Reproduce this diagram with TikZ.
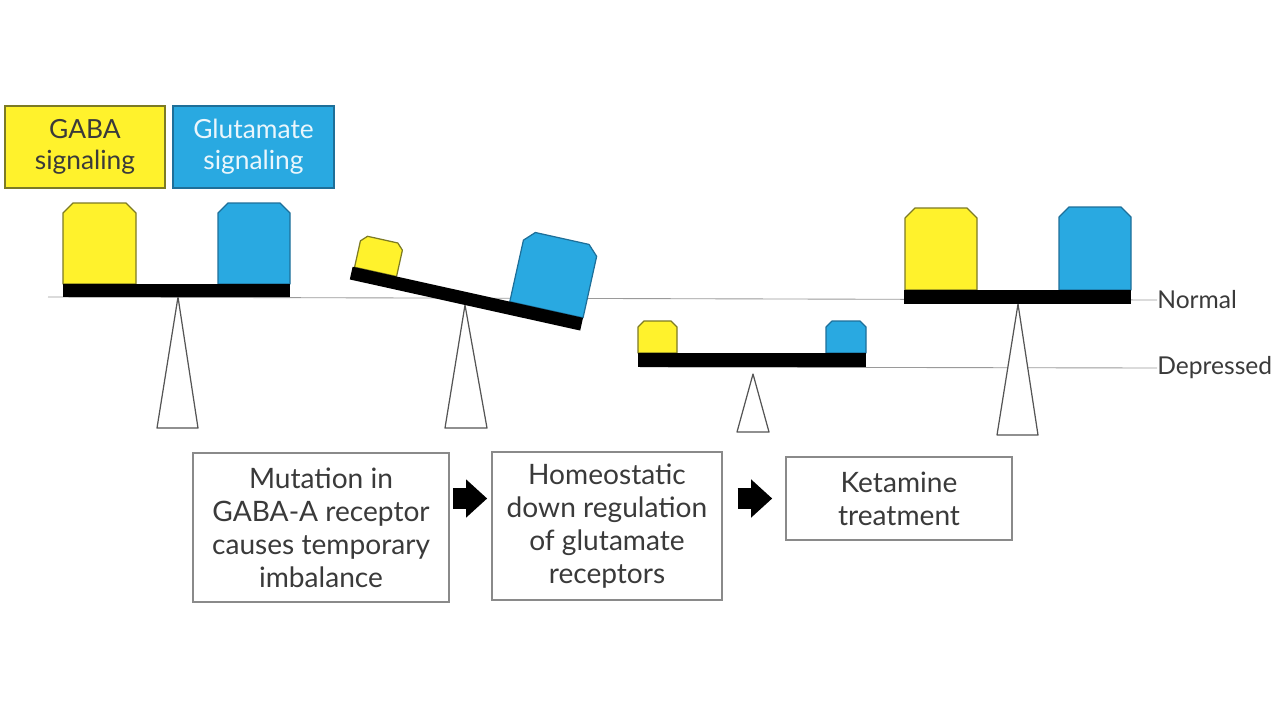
\documentclass[tikz,border=0pt]{standalone}
\usepackage{fontspec}
\setmainfont{Lato}
\usetikzlibrary{arrows.meta}
\definecolor{ylw}{HTML}{FFF22C}
\definecolor{ylwline}{HTML}{7C7A24}
\definecolor{blu}{HTML}{29A9E1}
\definecolor{bluline}{HTML}{1E6F99}
\definecolor{boxgray}{HTML}{8A8A8A}
\definecolor{txtgray}{HTML}{3A3A3A}
\definecolor{lvlgray}{HTML}{9A9A9A}
\definecolor{fulgray}{HTML}{555555}
\newcommand{\wt}[7]{% fill, line, xl, xr, ybottom, ytop, chamfer
  \filldraw[fill=#1,draw=#2,line width=0.7pt,line join=round]
    (#3,#5) -- (#3,#6+#7) -- (#3+#7,#6) -- (#4-#7,#6) -- (#4,#6+#7) -- (#4,#5) -- cycle;}
\begin{document}
\begin{tikzpicture}[x=0.02cm,y=-0.02cm,
  toplabel/.style={draw, line width=0.9pt, minimum width=160*0.02cm, minimum height=82*0.02cm,
    align=center, inner sep=0pt, font=\fontsize{15}{17.5}\selectfont},
  stepbox/.style={draw=boxgray, line width=0.9pt, fill=white, align=center, inner sep=0pt,
    text=txtgray, font=\fontsize{16}{18.8}\selectfont},
  level/.style={draw=lvlgray, line width=0.5pt},
  levellabel/.style={anchor=west, inner sep=0pt, text=txtgray, font=\fontsize{14}{16}\selectfont},
  fulcrum/.style={draw=fulgray, line width=0.7pt, fill=white, line join=round},
  beam/.style={fill=black},
  bigarrow/.style={line width=12pt, -{Triangle[length=12pt,width=21pt]}}
]
\useasboundingbox (0,0) rectangle (1280,720);

% level lines
\node[levellabel] (normal) at (1157,300) {Normal};
\node[levellabel] (depressed) at (1157,368) {Depressed};
\coordinate (nstart) at (48,297);
\coordinate (dstart) at (640,367);
\draw[level] (nstart) -- (normal.west);
\draw[level] (dstart) -- (depressed.west);

% top legend
\node[toplabel, draw=ylwline, fill=ylw, text=txtgray] (gaba) at (85,147) {GABA\\signaling};
\node[toplabel, draw=bluline, fill=blu, text=white!90!blu, minimum width=161*0.02cm] (glu) at (253.5,147) {Glutamate\\signaling};

% scale 1 (balanced, normal)
\draw[fulcrum] (178,297) -- (198,428) -- (157,428) -- cycle;
\wt{ylw}{ylwline}{63}{136}{284}{203}{10}
\wt{blu}{bluline}{218}{290}{284}{203}{10}
\fill[beam] (63,284) rectangle (290,297);

% scale 2 (tilted)
\draw[fulcrum] (465,305) -- (487,428) -- (445,428) -- cycle;
\begin{scope}[rotate around={-12.5:(465,305)}]
  \wt{ylw}{ylwline}{349}{392}{292}{259}{6}
  \wt{blu}{bluline}{508}{583}{292}{219}{10}
  \fill[beam] (347,292) rectangle (583,305);
\end{scope}

% scale 3 (balanced, depressed)
\draw[fulcrum] (753,374) -- (769,432) -- (737,432) -- cycle;
\wt{ylw}{ylwline}{638}{677}{353}{321}{6}
\wt{blu}{bluline}{826}{866}{353}{321}{6}
\fill[beam] (638,353) rectangle (866,367);

% scale 4 (balanced, normal)
\draw[fulcrum] (1018,304) -- (1038,435) -- (997,435) -- cycle;
\wt{ylw}{ylwline}{905}{977}{290}{208}{10}
\wt{blu}{bluline}{1059}{1131}{290}{207}{10}
\fill[beam] (904,290) rectangle (1131,304);

% step boxes
\node[stepbox, minimum width=256*0.02cm, minimum height=149*0.02cm] (s1) at (321,527.5)
  {Mutation in\\GABA-A receptor\\causes temporary\\imbalance};
\node[stepbox, minimum width=230*0.02cm, minimum height=148*0.02cm] (s2) at (607,526)
  {Homeostatic\\down regulation\\of glutamate\\receptors};
\node[stepbox, minimum width=226*0.02cm, minimum height=83*0.02cm] (s3) at (899,498.5)
  {Ketamine\\treatment};

\draw[bigarrow, shorten <=1.7pt, shorten >=2.3pt] (s1.east |- s3) -- (s2.west |- s3);
\draw[bigarrow, shorten <=8.5pt, shorten >=7.4pt] (s2.east |- s3) -- (s3.west);
\end{tikzpicture}
\end{document}
